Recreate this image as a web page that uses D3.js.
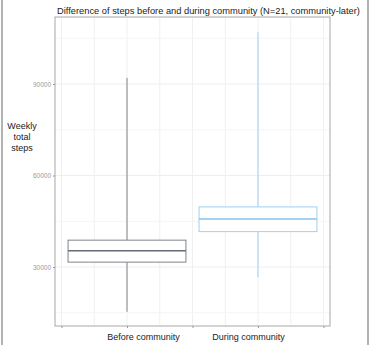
<!DOCTYPE html>
<html><head><meta charset="utf-8">
<script src="https://cdn.jsdelivr.net/npm/d3@7"></script>
<style>body{margin:0;background:#fff;} svg{display:block;font-family:"Liberation Sans",Arial,sans-serif;}</style>
</head><body>
<script>
const categories = ["Before community", "During community"];
const whiskerLow = [15300, 26700];
const q1 = [31600, 41600];
const median = [35300, 45700];
const q3 = [38800, 49700];
const whiskerHigh = [92000, 107000];
const colors = ["#7f838b", "#9fcff2"];
const medianColors = ["#666a73", "#86c2ee"];
const yTicks = [30000, 60000, 90000];
const yMinor = [15000, 45000, 75000, 105000];
const title = "Difference of steps before and during community (N=21, community-later)";
const yTitle = ["Weekly", "total", "steps"];

const W = 370, H = 345;
const svg = d3.select("body").append("svg").attr("width", W).attr("height", H);
const L = 55, R = 330, T = 17, B = 326;

const y = d3.scaleLinear().domain([30000, 90000]).range([267, 84]);
const x = d3.scaleLinear().domain([1, 2]).range([127, 258]);
const boxHalf = 0.45;
const labelShift = [16, -10];

// outer frame lines
svg.append("line").attr("x1", 2).attr("x2", 2).attr("y1", 0).attr("y2", H).attr("stroke", "#9a9a9a").attr("stroke-width", 1.5);
svg.append("line").attr("x1", 368).attr("x2", 368).attr("y1", 0).attr("y2", H).attr("stroke", "#9a9a9a").attr("stroke-width", 1.5);

// grid
const g = svg.append("g");
const xGrid = d3.range(0.5, 2.51, 0.25);
g.selectAll(".vg").data(xGrid).join("line")
  .attr("x1", d => x(d)).attr("x2", d => x(d)).attr("y1", T).attr("y2", B)
  .attr("stroke", "#f0f0f0").attr("stroke-width", 1);
g.selectAll(".hg").data(yMinor).join("line")
  .attr("x1", L).attr("x2", R).attr("y1", d => y(d)).attr("y2", d => y(d))
  .attr("stroke", "#f4f4f4").attr("stroke-width", 1);
g.selectAll(".hG").data(yTicks).join("line")
  .attr("x1", L).attr("x2", R).attr("y1", d => y(d)).attr("y2", d => y(d))
  .attr("stroke", "#eeeeee").attr("stroke-width", 1);

// panel border
svg.append("rect").attr("x", L).attr("y", T).attr("width", R - L).attr("height", B - T)
  .attr("fill", "none").attr("stroke", "#a8a8a8").attr("stroke-width", 1);

// boxes
categories.forEach((c, i) => {
  const cx = x(i + 1);
  const bg = svg.append("g");
  bg.append("line").attr("x1", cx).attr("x2", cx).attr("y1", y(whiskerHigh[i])).attr("y2", y(q3[i]))
    .attr("stroke", colors[i]).attr("stroke-width", 1);
  bg.append("line").attr("x1", cx).attr("x2", cx).attr("y1", y(q1[i])).attr("y2", y(whiskerLow[i]))
    .attr("stroke", colors[i]).attr("stroke-width", 1);
  bg.append("rect").attr("x", x(i + 1 - boxHalf)).attr("y", y(q3[i]))
    .attr("width", x(i + 1 + boxHalf) - x(i + 1 - boxHalf)).attr("height", y(q1[i]) - y(q3[i]))
    .attr("fill", "#fff").attr("stroke", colors[i]).attr("stroke-width", 1);
  bg.append("line").attr("x1", x(i + 1 - boxHalf)).attr("x2", x(i + 1 + boxHalf))
    .attr("y1", y(median[i])).attr("y2", y(median[i]))
    .attr("stroke", medianColors[i]).attr("stroke-width", 1.5);
});

// y axis
const ya = svg.append("g").attr("transform", `translate(${L},0)`)
  .call(d3.axisLeft(y).tickValues(yTicks).tickSize(2).tickPadding(2).tickFormat(d3.format("d")));
ya.select(".domain").remove();
ya.selectAll("line").attr("stroke", "#999");
ya.selectAll("text").attr("fill", "#9a9a9a").style("font-size", "6.5px");

// x axis
const xa = svg.append("g").attr("transform", `translate(0,${B})`)
  .call(d3.axisBottom(x).tickValues([0.5, 1, 1.5, 2, 2.5]).tickSize(2).tickPadding(6)
    .tickFormat(d => Number.isInteger(d) ? categories[d - 1] : ""));
xa.select(".domain").remove();
xa.selectAll("line").attr("stroke", "#999");
xa.selectAll("text").attr("fill", "#222").style("font-size", "9px")
  .attr("dx", d => Number.isInteger(d) ? labelShift[d - 1] : 0);

// titles
svg.append("text").attr("x", 208.5).attr("y", 14).attr("text-anchor", "middle")
  .attr("fill", "#222").style("font-size", "9.3px").text(title);
svg.append("text").attr("x", 22).attr("text-anchor", "middle").attr("fill", "#222").style("font-size", "9px")
  .selectAll("tspan").data(yTitle).join("tspan").attr("x", 22).attr("y", (d, i) => 129 + i * 11).text(d => d);
</script>
</body></html>
